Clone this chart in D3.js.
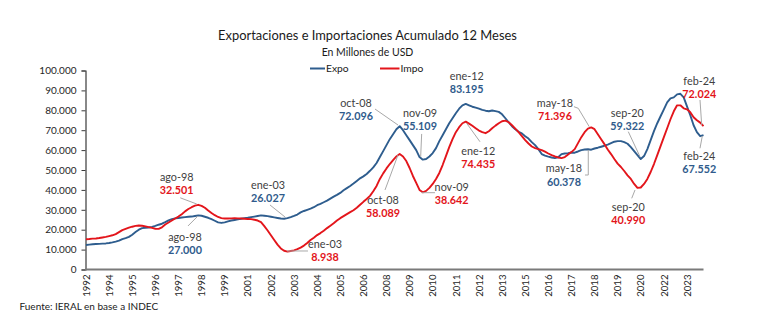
<!DOCTYPE html>
<html><head><meta charset="utf-8">
<script src="https://cdn.jsdelivr.net/npm/d3@7"></script>
<style>
html,body{margin:0;padding:0;background:#fff;}
svg{display:block;font-family:Lato,"Open Sans",sans-serif;}
</style></head>
<body><svg id="c" width="770" height="326"></svg>
<script>
// ---------------- DATA ----------------
const startMonth = "dic-92";          // first data point (12-month accumulated)
const monthStep = 2;                   // months between points
// Exportaciones, 12-month accumulated, thousand millions USD
const expo = [
 12.3,12.5,12.7,12.8,12.9,13.0, 13.1,13.3,13.6,14.0,14.5,15.3, 15.8,16.4,17.5,18.8,20.0,20.8,
 21.0,21.1,21.4,21.9,22.5,23.0, 23.8,24.7,25.3,25.7,25.9,26.1, 26.3,26.5,26.6,26.9,27.2,27.0,
 26.5,26.0,25.3,24.5,23.7,23.4, 23.7,24.2,24.6,24.9,25.2,25.5, 25.8,26.0,26.3,26.6,26.9,27.2,
 27.0,26.8,26.5,26.2,25.9,25.6, 25.5,25.8,26.3,26.9,27.6,28.7, 29.4,30.0,30.6,31.3,32.3,33.0,
 33.8,34.6,35.6,36.6,37.5,38.5, 39.8,40.9,42.0,43.2,44.5,45.8, 46.8,48.0,49.6,51.3,53.5,56.5,
 59.5,62.5,65.5,68.0,70.5,72.0, 70.0,67.5,65.0,62.5,60.0,56.5, 55.2,55.5,56.8,58.5,61.0,64.5,
 67.5,70.5,73.5,76.0,78.5,80.8, 82.5,83.2,82.5,81.8,81.3,80.8, 80.2,79.8,79.5,79.9,79.6,79.2,
 78.0,76.0,74.0,72.0,70.5,69.2, 68.4,67.0,65.8,64.0,62.5,60.5, 58.0,57.2,56.7,56.3,56.0,56.4,
 58.0,58.3,58.5,58.8,58.7,59.3, 60.0,60.3,60.4,60.2,60.8,61.2, 61.7,62.2,62.8,63.5,64.2,64.5,
 64.5,64.0,63.2,61.5,59.5,57.5, 55.5,57.0,60.5,65.0,69.5,73.5, 77.0,80.5,84.0,86.0,86.5,88.0,
 88.3,86.5,82.0,77.5,72.5,69.0, 67.0,67.552
];
// Importaciones
const impo = [
 15.2,15.3,15.5,15.6,15.8,16.1, 16.4,16.8,17.2,17.8,18.8,19.8, 20.4,21.0,21.5,21.9,22.1,22.0,
 21.7,21.3,20.9,20.5,20.4,21.2, 22.6,23.6,24.6,25.6,26.6,27.8, 29.2,30.4,31.3,32.1,32.5,32.0,
 31.0,29.6,28.4,27.3,26.4,25.8, 25.6,25.6,25.7,25.8,25.7,25.6, 25.5,25.4,25.3,25.0,24.6,23.8,
 21.8,19.6,17.2,14.8,12.5,10.6, 9.4,9.0,9.3,9.6,10.2,11.0, 12.0,13.3,14.8,16.0,17.3,18.3,
 19.5,20.8,22.0,23.2,24.6,25.8, 26.8,27.8,28.8,29.8,31.0,32.5, 34.0,35.4,37.0,39.3,42.0,45.5,
 48.3,50.8,53.0,55.0,56.8,58.0, 56.8,54.5,51.0,47.0,43.5,40.0, 38.8,39.5,41.0,43.0,45.5,48.5,
 52.5,57.0,61.5,65.5,69.0,71.5, 73.5,74.3,73.3,72.2,71.0,69.8, 69.0,68.5,69.5,71.0,72.3,73.5,
 74.5,74.8,74.0,72.5,70.8,69.0, 67.0,65.0,63.3,61.8,61.0,60.5, 60.0,59.2,58.3,57.5,56.8,56.3,
 56.0,56.5,57.8,59.0,60.5,63.5, 66.5,69.0,70.8,71.4,70.5,68.0, 65.5,63.0,60.3,58.0,55.5,53.2,
 51.5,49.5,47.3,45.5,43.0,41.0, 41.2,43.0,45.5,49.0,53.0,57.5, 62.0,66.5,71.0,75.5,79.5,82.5,
 82.5,81.0,80.5,79.0,76.5,75.0, 73.8,72.024
];
const seriesNames = ["Expo","Impo"];
const xTickLabels = ["1992","1994","1995","1996","1997","1998","1999","2001","2002","2003","2004","2005","2006","2008",
 "2009","2010","2011","2012","2013","2015","2016","2017","2018","2019","2020","2022","2023"];
const xTickStepMonths = 14;
const yTicks = [0,10000,20000,30000,40000,50000,60000,70000,80000,90000,100000];
// annotations
const annDates  = ["ago-98","ago-98","ene-03","ene-03","oct-08","oct-08","nov-09","nov-09","ene-12","ene-12","may-18","may-18","sep-20","sep-20","feb-24","feb-24"];
const annSeries = ["Impo","Expo","Expo","Impo","Expo","Impo","Expo","Impo","Expo","Impo","Impo","Expo","Expo","Impo","Impo","Expo"];
const annValues = ["32.501","27.000","26.027","8.938","72.096","58.089","55.109","38.642","83.195","74.435","71.396","60.378","59.322","40.990","72.024","67.552"];

// ---------------- LAYOUT ----------------
const colors = {Expo:"#2e5d8e", Impo:"#e3151b"};
const textColors = {Expo:"#2f5b8c", Impo:"#e3151b"};
// label offsets (dx,dy of first text baseline) and leader points relative to anchor
const annLayout = [
 {dx:-21.6,dy:-24.3, lead:[[-18,-7],[-1.5,-0.8]]},
 {dx:-13.3,dy:25.6,  lead:[[-10.3,10.6],[-0.3,0.6]]},
 {dx:-17.8,dy:-29.2, lead:[[-15.8,-13.2],[-0.8,-1.2]]},
 {dx:39.2,dy:-3.6,   lead:[[1.2,-0.6],[22.2,-0.6]]},
 {dx:-43.7,dy:-19.2, lead:[[-24.7,-17.2],[-1.7,-1.2]]},
 {dx:-16.7,dy:49.9,  lead:[[-14.7,35.9],[-1.7,0.9]]},
 {dx:-1.2,dy:-42.7,  lead:[[0.5,-25.7],[-0.5,-2.7]]},
 {dx:30.5,dy:-1.6,   lead:[[0.5,0.4],[13.8,0.4]]},
 {dx:2.6,dy:-23.9,   lead:[]},
 {dx:14.2,dy:33.1,   lead:[[2.6,1.7],[15.9,20.1]]},
 {dx:-34.6,dy:-20.7, lead:[[-15.6,-20.7],[-11.3,-19.1],[-0.3,-0.7]]},
 {dx:-25.6,dy:22.6,  lead:[[-4.6,25.3],[-1.3,25.3],[-1.3,0.3]]},
 {dx:-8.5,dy:-38.4,  lead:[[-7.5,-23.4],[4.2,1.6]]},
 {dx:-7.5,dy:22.8,   lead:[[-4.1,10.4],[-0.8,2.1]]},
 {dx:-4.2,dy:-41.5,  lead:[[-3.5,-26.2],[-1.8,-1.2]]},
 {dx:-4.2,dy:24.9,   lead:[[-3.5,13.2],[-1.2,0.9]]}
];

const months = ["ene","feb","mar","abr","may","jun","jul","ago","sep","oct","nov","dic"];
function monthNum(s){const [m,y]=s.split("-");const yy=+y<50?2000+ +y:1900+ +y;return yy*12+months.indexOf(m);}
const m0 = monthNum(startMonth);
const n = expo.length;
const lastIdx = (n-1)*monthStep;

const svg = d3.select("#c");
const x = d3.scaleLinear().domain([0,lastIdx]).range([86,703.5]);
const y = d3.scaleLinear().domain([0,100000]).range([269.5,70.5]);
const fmt = d3.formatLocale({decimal:",",thousands:".",grouping:[3],currency:["$",""]}).format(",.0f");

// Title
svg.append("text").attr("x",367.5).attr("y",40).attr("text-anchor","middle")
  .attr("font-size",12.9).attr("fill","#1a1a1a").text("Exportaciones e Importaciones Acumulado 12 Meses");
svg.append("text").attr("x",367.5).attr("y",55.5).attr("text-anchor","middle")
  .attr("font-size",10.5).attr("fill","#1a1a1a").text("En Millones de USD");

// Legend
const leg = svg.append("g");
[[310,325,326],[380,399.5,400.5]].forEach((p,i)=>{
  leg.append("line").attr("x1",p[0]).attr("x2",p[1]).attr("y1",68.5).attr("y2",68.5)
    .attr("stroke",colors[seriesNames[i]]).attr("stroke-width",2);
  leg.append("text").attr("x",p[2]).attr("y",72).attr("font-size",10.3).attr("fill","#1a1a1a").text(seriesNames[i]);
});

// Y axis
const yAxis = svg.append("g").attr("transform","translate(85.5,0)")
  .call(d3.axisLeft(y).tickValues(yTicks).tickFormat(fmt).tickSize(4).tickPadding(5));
yAxis.select(".domain").attr("stroke","#3a3a3a").attr("stroke-width",1.2);
yAxis.selectAll(".tick line").attr("stroke","#3a3a3a");
yAxis.selectAll("text").attr("font-size",10).attr("fill","#262626").attr("font-family","Lato,sans-serif");

// X axis
const xTickIdx = xTickLabels.map((d,i)=>i*xTickStepMonths);
const xAxis = svg.append("g").attr("transform","translate(0,269.5)")
  .call(d3.axisBottom(x).tickValues(xTickIdx).tickFormat((d,i)=>xTickLabels[i]).tickSize(0));
xAxis.select(".domain").attr("stroke","#7a7a7a").attr("stroke-width",1.8).attr("d","M85,0H703.5");
xAxis.selectAll("text").attr("font-size",9.6).attr("fill","#262626").attr("font-family","Lato,sans-serif")
  .attr("text-anchor","end").attr("transform","rotate(-90)").attr("x",-5).attr("y",0).attr("dy","0.33em");

// Lines
const line = d3.line().x((d,i)=>x(i*monthStep)).y(d=>y(d*1000));
[["Expo",expo],["Impo",impo]].forEach(([name,vals])=>{
  svg.append("path").datum(vals).attr("d",line).attr("fill","none")
    .attr("stroke",colors[name]).attr("stroke-width",1.9).attr("stroke-linejoin","round");
});

// Annotations
const seriesData = {Expo:expo, Impo:impo};
annDates.forEach((d,i)=>{
  const idx = monthNum(d)-m0;
  const s = annSeries[i];
  const k = Math.min(n-1, Math.round(idx/monthStep));
  const ax = x(idx), ay = y(seriesData[s][k]*1000);
  const L = annLayout[i];
  if (L.lead.length){
    svg.append("path").attr("d", d3.line()(L.lead.map(p=>[ax+p[0],ay+p[1]])))
      .attr("fill","none").attr("stroke","#a8a8a8").attr("stroke-width",1);
  }
  const g = svg.append("g").attr("font-size",10.8).attr("text-anchor","middle");
  g.append("text").attr("x",ax+L.dx).attr("y",ay+L.dy).attr("fill","#404040").text(d);
  g.append("text").attr("x",ax+L.dx).attr("y",ay+L.dy+13.3).attr("fill",textColors[s])
    .attr("font-weight",700).text(annValues[i]);
});

// Source
svg.append("text").attr("x",19.5).attr("y",310).attr("font-size",10).attr("fill","#1a1a1a")
  .text("Fuente: IERAL en base a INDEC");
</script></body></html>
